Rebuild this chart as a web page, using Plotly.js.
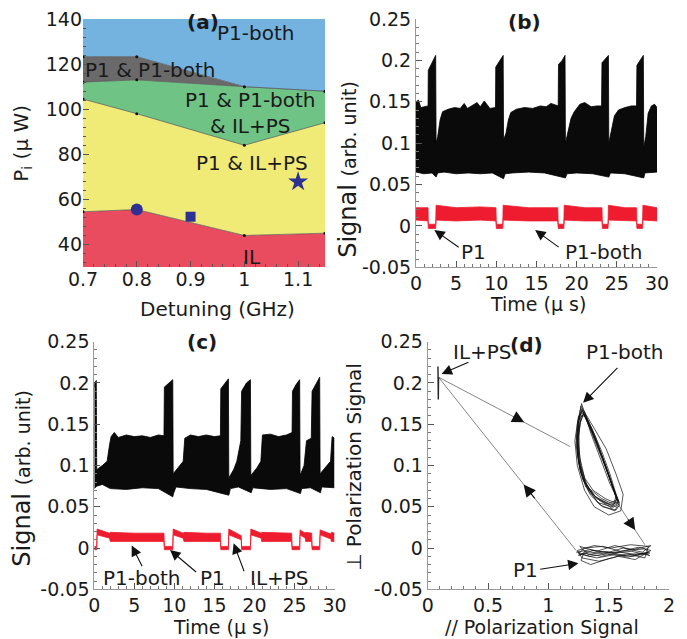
<!DOCTYPE html>
<html><head><meta charset="utf-8">
<script src="https://cdn.plot.ly/plotly-3.0.1.min.js"></script>
<style>body{margin:0;background:#fff}#plot{width:687px;height:639px}</style>
</head><body><div id="plot"></div>
<script>
// ---------- Panel (a): phase diagram ----------
const aX = [0.7, 0.8, 1.0, 1.15];
const aBottom = [30, 30, 30, 30];
const aIL = [54.5, 55.5, 44, 45];
const aYellowTop = [104.5, 98, 84, 94];
const aGreenTop = [112, 113, 110, 108];
const aGrayTop = [123.3, 123.3, 110, 108];
const aTop = [140, 140, 140, 140];
const aCircle = [0.8, 55.5];
const aSquare = [0.9, 52.3];
const aStar = [1.1, 67.8];
const aXTicks = [0.7, 0.8, 0.9, 1, 1.1];
const aXTickText = ['0.7', '0.8', '0.9', '1', '1.1'];
const aYTicks = [40, 60, 80, 100, 120, 140];

// ---------- Panel (b): time trace ----------
const bBlackUpT = [0,0.3,0.6,1.0,1.5, 1.53,2.0,2.45,2.5,2.7, 3.0,3.3,4.0,4.8,5.5, 6.0,6.4,7.0,7.6,8.0, 8.5,9.2,9.9,9.93,10.4, 10.85,10.9,11.2,11.5,11.8, 12.5,13.5,14.5,15.5,16.2, 16.8,17.7,17.74,18.2,18.55, 18.6,18.9,19.3,19.7,20.4, 21.0,21.8,22.5,23.1,23.15, 23.6,23.95,24.0,24.3,24.7, 25.2,26.0,26.8,27.45,27.5, 27.9,28.3,28.35,28.6,28.9, 29.3,29.7,30];
const bBlackUpV = [0.15,0.152,0.143,0.144,0.145, 0.188,0.198,0.206,0.1,0.108, 0.128,0.138,0.141,0.143,0.142, 0.148,0.142,0.145,0.149,0.144, 0.151,0.142,0.143,0.192,0.2, 0.206,0.104,0.112,0.128,0.137, 0.141,0.143,0.142,0.145,0.144, 0.148,0.145,0.195,0.2,0.206, 0.1,0.112,0.13,0.138,0.147, 0.149,0.144,0.145,0.145,0.197, 0.202,0.206,0.1,0.116,0.133, 0.14,0.143,0.145,0.145,0.194, 0.2,0.206,0.095,0.108,0.136, 0.145,0.147,0.143];
const bBlackLoT = [0,1,2,2.5,2.7, 3.5,5,6.5,8,9.5, 10.9,11.1,12,14,16, 18.6,18.8,20,22,24.0, 24.2,26,28.35,28.5,30];
const bBlackLoV = [0.065,0.063,0.064,0.059,0.064, 0.065,0.063,0.064,0.063,0.064, 0.057,0.063,0.064,0.065,0.064, 0.058,0.063,0.064,0.063,0.059, 0.064,0.063,0.058,0.064,0.065];
const bRedT = [0,1.5,1.53,2.45,2.5, 5,8,9.95,10.0,10.8, 10.85,14,17.65,17.7,18.4, 18.45,21,23.15,23.2,23.9, 23.95,26,27.45,27.5,28.2, 28.25,30];
const bRedUp = [0.022,0.022,0.002,0.002,0.025, 0.022,0.023,0.022,0.002,0.002, 0.025,0.022,0.022,0.002,0.002, 0.025,0.022,0.022,0.002,0.002, 0.025,0.022,0.022,0.002,0.002, 0.025,0.022];
const bRedLo = [0.007,0.006,-0.003,-0.003,0.007, 0.006,0.007,0.006,-0.003,-0.003, 0.007,0.006,0.006,-0.003,-0.003, 0.007,0.006,0.006,-0.003,-0.003, 0.007,0.006,0.006,-0.003,-0.003, 0.007,0.006];

// ---------- Panel (c): time trace ----------
const cBlackUpT = [0,0.05,0.25,0.3,1.0, 1.6,1.9,2.1,2.5,3, 4,5,6,7,8, 8.7,8.75,9.3,9.8,9.85, 10.5,11.1,11.3,12,13, 14,15,15.75,15.8,16.3, 16.75,16.8,17.4,17.8,18.3, 18.4,19.0,19.5,19.55,20.3, 20.8,21.0,22,23,24, 24.7,24.75,25.2,25.65,25.7, 26.2,26.5,27.1,27.2,27.7, 28.15,28.2,29.0,29.5,29.7, 30];
const cBlackUpV = [0.195,0.2,0.203,0.095,0.1, 0.105,0.125,0.135,0.14,0.134, 0.137,0.135,0.136,0.134,0.137, 0.136,0.195,0.2,0.204,0.09, 0.098,0.105,0.133,0.137,0.135, 0.137,0.135,0.136,0.193,0.2, 0.205,0.085,0.095,0.105,0.13, 0.19,0.2,0.204,0.088,0.097, 0.105,0.137,0.138,0.135,0.137, 0.14,0.19,0.198,0.204,0.088, 0.1,0.13,0.133,0.19,0.2, 0.207,0.09,0.1,0.105,0.135, 0.133];
const cBlackLoT = [0,0.3,1,2,4, 6,8,9.8,9.9,10.2, 12,14,16.8,17,18, 19.6,19.8,22,24,25.75, 25.9,27,28.25,28.4,30];
const cBlackLoV = [0.072,0.075,0.077,0.072,0.071, 0.073,0.072,0.062,0.066,0.074, 0.072,0.071,0.064,0.072,0.074, 0.067,0.073,0.071,0.072,0.066, 0.072,0.073,0.067,0.074,0.073];
const cRedT = [0,0.3,0.35,1.9,2.0, 5,8.7,8.75,9.8,9.85, 11.1,11.2,14,15.75,15.8, 16.75,16.8,18.35,18.4,19.5, 19.55,20.85,20.9,23,24.65, 24.7,25.65,25.7,26.35,26.4, 27.15,27.2,28.15,28.2,29.55, 29.6,30];
const cRedUp = [0.002,0.002,0.023,0.018,0.019, 0.018,0.018,0.002,0.002,0.023, 0.018,0.019,0.018,0.018,0.002, 0.002,0.023,0.015,0.002,0.002, 0.023,0.018,0.019,0.018,0.018, 0.002,0.002,0.022,0.018,0.019, 0.018,0.002,0.002,0.022,0.017, 0.019,0.018];
const cRedLo = [-0.002,-0.002,0.016,0.012,0.008, 0.008,0.008,-0.002,-0.002,0.016, 0.012,0.008,0.008,0.008,-0.002, -0.002,0.016,0.01,-0.002,-0.002, 0.016,0.012,0.008,0.008,0.008, -0.002,-0.002,0.016,0.012,0.008, 0.008,-0.002,-0.002,0.016,0.011, 0.008,0.008];
const timeTicks = [0, 5, 10, 15, 20, 25, 30];
const sigTicks = [-0.05, 0, 0.05, 0.1, 0.15, 0.2, 0.25];
const sigTickText = ['-0.05', '0', '0.05', '0.1', '0.15', '0.2', '0.25'];

// ---------- Panel (d): phase portrait ----------
const dLoopX = [1.28,1.34,1.42,1.50,1.56,1.54,1.44,1.34,1.27,1.24,1.245,1.26,1.28,
  1.36,1.44,1.52,1.58,1.56,1.46,1.36,1.29,1.25,1.235,1.25,1.29,
  1.32,1.39,1.47,1.54,1.59,1.55,1.43,1.33,1.26,1.23,1.24,1.27,
  1.38,1.48,1.56,1.62,1.60,1.50,1.38,1.30,1.24,1.22,1.25,1.30,
  1.35,1.43,1.51,1.57,1.55,1.47,1.37,1.30,1.26,1.25,1.265,1.285,
  1.31,1.37,1.45,1.53,1.57,1.53,1.41,1.32,1.27,1.245,1.255,1.275,
  1.33,1.41,1.49,1.555,1.58,1.52,1.40,1.31,1.255,1.24,1.25,1.28,
  1.34,1.40,1.48,1.545,1.565,1.50,1.39,1.30,1.25,1.24,1.26,1.29,
  1.35,1.42,1.50,1.56,1.59,1.56,1.45,1.35,1.28,1.25,1.255,1.27,
  1.30,1.36,1.44,1.51,1.55,1.58,1.53,1.42,1.31,1.26,1.235,1.245,1.28];
const dLoopY = [0.168,0.15,0.12,0.09,0.062,0.053,0.06,0.072,0.09,0.115,0.14,0.16,0.168,
  0.14,0.11,0.08,0.058,0.05,0.055,0.066,0.082,0.108,0.135,0.155,0.162,
  0.158,0.135,0.1,0.07,0.055,0.045,0.052,0.07,0.095,0.125,0.15,0.172,
  0.145,0.12,0.09,0.065,0.045,0.04,0.05,0.07,0.1,0.13,0.16,0.165,
  0.14,0.108,0.078,0.06,0.055,0.06,0.07,0.085,0.11,0.135,0.152,0.16,
  0.16,0.14,0.11,0.075,0.058,0.05,0.055,0.075,0.1,0.13,0.158,0.175,
  0.152,0.125,0.092,0.066,0.056,0.052,0.06,0.078,0.105,0.132,0.155,0.166,
  0.148,0.128,0.098,0.07,0.058,0.054,0.062,0.08,0.104,0.128,0.15,0.163,
  0.146,0.12,0.088,0.063,0.052,0.046,0.05,0.064,0.085,0.112,0.14,0.16,
  0.162,0.145,0.118,0.09,0.072,0.056,0.048,0.058,0.074,0.098,0.125,0.152,0.17];
const dP1X = [1.23,1.35,1.5,1.65,1.8,1.84,1.7,1.55,1.4,1.25,1.3,1.45,1.6,1.75,1.85,1.72,1.58,1.42,1.28,1.24,1.38,1.52,1.68,1.83,1.8,1.65,1.5,1.35,1.27,1.3,1.46,1.62,1.78,1.85,1.7,1.55,1.4,1.26,
  1.33,1.48,1.63,1.79,1.84,1.69,1.53,1.37,1.25,1.29,1.44,1.59,1.74,1.83,1.66,1.49,1.34,1.24];
const dP1Y = [-0.005,-0.002,-0.006,-0.003,-0.001,-0.006,-0.01,-0.008,-0.012,-0.007,0.0,0.002,-0.004,0.001,-0.003,-0.014,-0.01,-0.016,-0.012,-0.003,0.003,0.0,0.004,0.002,-0.012,-0.007,-0.013,-0.02,-0.015,-0.004,-0.007,0.0,-0.005,0.003,-0.002,0.003,-0.004,0.002,
  -0.008,-0.004,-0.009,-0.006,-0.009,-0.004,-0.006,-0.003,-0.009,-0.006,-0.01,-0.005,-0.008,-0.005,-0.011,-0.007,-0.01,-0.005];
const dILX = [0.085,0.088,0.09,0.086,0.09,0.088,0.09];
const dILY = [0.22,0.18,0.215,0.19,0.21,0.2,0.207];
const dTransX = [0.09,1.18,null,1.57,1.80,null,1.23,0.09];
const dTransY = [0.207,0.123,null,0.055,0.004,null,-0.003,0.207];
const dXTicks = [0, 0.5, 1, 1.5, 2];
const dXTickText = ['0', '0.5', '1', '1.5', '2'];

const FONT = 'DejaVu Sans';
const PX = x => x / 687;
const PY = y => 1 - y / 639;

const NAVY = '#2e3192';
const traces = [
  {x: aX, y: aBottom, xaxis: 'x', yaxis: 'y', mode: 'lines', line: {width: 0}, hoverinfo: 'skip'},
  {x: aX, y: aIL, xaxis: 'x', yaxis: 'y', mode: 'lines+markers', fill: 'tonexty', fillcolor: '#e94b5f',
   line: {color: '#555', width: 0.7}, marker: {color: '#111', size: 3}},
  {x: aX, y: aYellowTop, xaxis: 'x', yaxis: 'y', mode: 'lines+markers', fill: 'tonexty', fillcolor: '#f0eb76',
   line: {color: '#555', width: 0.7}, marker: {color: '#111', size: 3}},
  {x: aX, y: aGreenTop, xaxis: 'x', yaxis: 'y', mode: 'lines+markers', fill: 'tonexty', fillcolor: '#6fc384',
   line: {color: '#555', width: 0.7}, marker: {color: '#111', size: 3}},
  {x: aX, y: aGrayTop, xaxis: 'x', yaxis: 'y', mode: 'lines+markers', fill: 'tonexty', fillcolor: '#6a6a6a',
   line: {color: '#555', width: 0.7}, marker: {color: '#111', size: 3}},
  {x: aX, y: aTop, xaxis: 'x', yaxis: 'y', mode: 'lines', fill: 'tonexty', fillcolor: '#74b2e0', line: {width: 0}},
  {x: [aCircle[0]], y: [aCircle[1]], xaxis: 'x', yaxis: 'y', mode: 'markers', marker: {symbol: 'circle', size: 12, color: NAVY}},
  {x: [aSquare[0]], y: [aSquare[1]], xaxis: 'x', yaxis: 'y', mode: 'markers', marker: {symbol: 'square', size: 10, color: NAVY}},
  {x: [aStar[0]], y: [aStar[1]], xaxis: 'x', yaxis: 'y', mode: 'markers', marker: {symbol: 'star', size: 15, color: NAVY}},

  {x: bBlackLoT, y: bBlackLoV, xaxis: 'x2', yaxis: 'y2', mode: 'lines', line: {color: '#000', width: 0.8}},
  {x: bBlackUpT, y: bBlackUpV, xaxis: 'x2', yaxis: 'y2', mode: 'lines', fill: 'tonexty', fillcolor: '#0a0a0a', line: {color: '#000', width: 0.8}},
  {x: bRedT, y: bRedLo, xaxis: 'x2', yaxis: 'y2', mode: 'lines', line: {color: '#ee1c2e', width: 0.8}},
  {x: bRedT, y: bRedUp, xaxis: 'x2', yaxis: 'y2', mode: 'lines', fill: 'tonexty', fillcolor: '#ee1c2e', line: {color: '#ee1c2e', width: 0.8}},

  {x: cBlackLoT, y: cBlackLoV, xaxis: 'x3', yaxis: 'y3', mode: 'lines', line: {color: '#000', width: 0.8}},
  {x: cBlackUpT, y: cBlackUpV, xaxis: 'x3', yaxis: 'y3', mode: 'lines', fill: 'tonexty', fillcolor: '#0a0a0a', line: {color: '#000', width: 0.8}},
  {x: cRedT, y: cRedLo, xaxis: 'x3', yaxis: 'y3', mode: 'lines', line: {color: '#ee1c2e', width: 0.8}},
  {x: cRedT, y: cRedUp, xaxis: 'x3', yaxis: 'y3', mode: 'lines', fill: 'tonexty', fillcolor: '#ee1c2e', line: {color: '#ee1c2e', width: 0.8}},

  {x: dTransX, y: dTransY, xaxis: 'x4', yaxis: 'y4', mode: 'lines', line: {color: '#777', width: 0.9}},
  {x: dLoopX, y: dLoopY, xaxis: 'x4', yaxis: 'y4', mode: 'lines', line: {color: '#111', width: 0.8}, opacity: 0.9},
  {x: dP1X, y: dP1Y, xaxis: 'x4', yaxis: 'y4', mode: 'lines', line: {color: '#111', width: 0.8}, opacity: 0.9},
  {x: dILX, y: dILY, xaxis: 'x4', yaxis: 'y4', mode: 'lines', line: {color: '#222', width: 1.4}}
];

function ax(extra) {
  return Object.assign({
    showgrid: false, zeroline: false, ticks: 'inside', ticklen: 6, tickwidth: 1, tickcolor: '#555',
    tickfont: {family: FONT, size: 19, color: '#1a1a1a'}, showline: true, linecolor: '#999', linewidth: 1,
    fixedrange: true
  }, extra);
}

function txt(text, x, y, xref, yref, opts) {
  return Object.assign({text: text, x: x, y: y, xref: xref, yref: yref, showarrow: false,
    xanchor: 'center', yanchor: 'middle', font: {family: FONT, size: 20, color: '#1a1a1a'}}, opts || {});
}
function arrow(hx, hy, tx, ty, xr, yr, size) {
  return {text: ' ', x: hx, y: hy, ax: tx, ay: ty, xref: xr, yref: yr, axref: xr, ayref: yr,
    font: {size: 1}, showarrow: true, arrowhead: 2, arrowsize: size || 1.9, arrowwidth: 1.1, arrowcolor: '#111', standoff: 0, startstandoff: 0};
}

const annotations = [
  // panel (a)
  txt('P1-both', 1.02, 133.8, 'x', 'y'),
  txt('P1 & P1-both', 0.825, 117.3, 'x', 'y'),
  txt('P1 & P1-both<br>& IL+PS', 1.012, 98.5, 'x', 'y'),
  txt('P1 & IL+PS', 1.015, 76, 'x', 'y'),
  txt('IL', 1.015, 34.3, 'x', 'y'),
  txt('<b>(a)</b>', PX(202.5), PY(21.7), 'paper', 'paper'),
  txt('Detuning (GHz)', PX(217.5), PY(309), 'paper', 'paper'),
  txt('P<sub>i</sub> (μ W)', PX(21.7), PY(143), 'paper', 'paper', {textangle: -90}),
  // panel (b)
  txt('<b>(b)</b>', PX(524), PY(21.7), 'paper', 'paper'),
  txt('Time (μ s)', PX(538), PY(304), 'paper', 'paper', {font: {family: FONT, size: 19, color: '#1a1a1a'}}),
  txt('Signal <span style="font-size:19px">(arb. unit)</span>', PX(348.3), PY(169.5), 'paper', 'paper', {textangle: -90, font: {family: FONT, size: 24, color: '#1a1a1a'}}),
  txt('P1', 7.15, -0.032, 'x2', 'y2'),
  arrow(2.28, -0.005, 5.5, -0.027, 'x2', 'y2'),
  txt('P1-both', 23.3, -0.032, 'x2', 'y2'),
  arrow(14.83, -0.005, 17.95, -0.027, 'x2', 'y2'),
  // panel (c)
  txt('<b>(c)</b>', PX(201.7), PY(341.7), 'paper', 'paper'),
  txt('Time (μ s)', PX(221), PY(627), 'paper', 'paper', {font: {family: FONT, size: 19, color: '#1a1a1a'}}),
  txt('Signal <span style="font-size:19px">(arb. unit)</span>', PX(21.7), PY(478), 'paper', 'paper', {textangle: -90, font: {family: FONT, size: 24, color: '#1a1a1a'}}),
  txt('P1-both', 5.9, -0.0367, 'x3', 'y3'),
  arrow(4.67, 0.003, 6.1, -0.0246, 'x3', 'y3'),
  txt('P1', 14.7, -0.0367, 'x3', 'y3'),
  arrow(9.46, -0.0024, 12.9, -0.0306, 'x3', 'y3'),
  txt('IL+PS', 23.1, -0.0367, 'x3', 'y3'),
  arrow(17.4, 0.0057, 18.8, -0.0306, 'x3', 'y3'),
  // panel (d)
  txt('<b>(d)</b>', PX(526.7), PY(345), 'paper', 'paper'),
  txt('// Polarization Signal', PX(541.7), PY(626.5), 'paper', 'paper', {font: {family: FONT, size: 19, color: '#1a1a1a'}}),
  txt('⊥ Polarization Signal', PX(353.3), PY(466.7), 'paper', 'paper', {textangle: -90}),
  txt('IL+PS', 0.455, 0.238, 'x4', 'y4'),
  arrow(0.115, 0.211, 0.35, 0.226, 'x4', 'y4'),
  txt('P1-both', 1.63, 0.238, 'x4', 'y4'),
  arrow(1.288, 0.176, 1.585, 0.22, 'x4', 'y4'),
  txt('P1', 0.81, -0.027, 'x4', 'y4'),
  arrow(1.25, -0.0185, 0.92, -0.026, 'x4', 'y4'),
  arrow(0.80, 0.1523, 0.70, 0.16, 'x4', 'y4', 2.2),
  arrow(0.795, 0.077, 0.90, 0.0578, 'x4', 'y4', 2.2),
  arrow(1.72, 0.0217, 1.65, 0.037, 'x4', 'y4', 2.2)
];

const XSO = -1;
const layout = {
  width: 687, height: 639, margin: {l: 0, r: 0, t: 0, b: 0},
  paper_bgcolor: '#fff', plot_bgcolor: 'rgba(0,0,0,0)', showlegend: false,
  font: {family: FONT, size: 20, color: '#1a1a1a'},
  xaxis: ax({domain: [PX(83), PX(325)], anchor: 'y', range: [0.7, 1.15], tickvals: aXTicks, ticktext: aXTickText,
    showline: false, ticklabelstandoff: XSO, minor: {ticks: 'inside', dtick: 0.02, tick0: 0.7, ticklen: 3, tickcolor: '#555'}}),
  yaxis: ax({domain: [PY(267), PY(19)], anchor: 'x', range: [30, 140], tickvals: aYTicks,
    showline: false, minor: {ticks: 'inside', dtick: 4, tick0: 40, ticklen: 3, tickcolor: '#555'}}),
  xaxis2: ax({domain: [PX(416), PX(657)], anchor: 'y2', range: [0, 30], tickvals: timeTicks, ticklabelstandoff: XSO,
    minor: {ticks: 'inside', dtick: 1, ticklen: 3, tickcolor: '#777'}}),
  yaxis2: ax({domain: [PY(267.3), PY(19)], anchor: 'x2', range: [-0.05, 0.25], tickvals: sigTicks, ticktext: sigTickText,
    minor: {ticks: 'inside', dtick: 0.01, tick0: 0, ticklen: 3, tickcolor: '#777'}}),
  xaxis3: ax({domain: [PX(94.3), PX(334.5)], anchor: 'y3', range: [0, 30], tickvals: timeTicks, ticklabelstandoff: XSO,
    minor: {ticks: 'inside', dtick: 1, ticklen: 3, tickcolor: '#777'}}),
  yaxis3: ax({domain: [PY(589.3), PY(341.7)], anchor: 'x3', range: [-0.05, 0.25], tickvals: sigTicks, ticktext: sigTickText,
    minor: {ticks: 'inside', dtick: 0.01, tick0: 0, ticklen: 3, tickcolor: '#777'}}),
  xaxis4: ax({domain: [PX(427.7), PX(669)], anchor: 'y4', range: [0, 2], tickvals: dXTicks, ticktext: dXTickText, ticklabelstandoff: XSO,
    minor: {ticks: 'inside', dtick: 0.1, ticklen: 3, tickcolor: '#777'}}),
  yaxis4: ax({domain: [PY(589.3), PY(341.7)], anchor: 'x4', range: [-0.05, 0.25], tickvals: sigTicks, ticktext: sigTickText,
    minor: {ticks: 'inside', dtick: 0.01, tick0: 0, ticklen: 3, tickcolor: '#777'}}),
  annotations: annotations
};

Plotly.newPlot('plot', traces, layout, {displayModeBar: false, staticPlot: true});
</script></body></html>
